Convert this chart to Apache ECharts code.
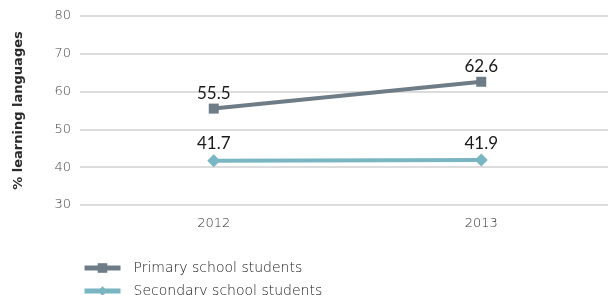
<!DOCTYPE html>
<html><head><meta charset="utf-8">
<script src="https://cdn.jsdelivr.net/npm/echarts@6/dist/echarts.min.js"></script>
<style>html,body{margin:0;padding:0;background:#fff}#c{width:608px;height:295px}</style>
</head><body><div id="c"></div>
<script>
const categories = ['2012', '2013'];
const primary = [55.5, 62.6];
const secondary = [41.7, 41.9];
const seriesNames = ['Primary school students', 'Secondary school students'];
const yTicks = [30, 40, 50, 60, 70, 80];

const chart = echarts.init(document.getElementById('c'));
const labelStyle = {show: true, position: 'top', distance: 2, color: '#1a1a1a', fontSize: 17, fontFamily: 'Lato'};
const tickFont = 'DejaVu Sans';
chart.setOption({
  animation: false,
  grid: {left: 80, width: 535, top: 16, height: 189, outerBoundsMode: 'none', containLabel: false},
  xAxis: {
    type: 'category', data: categories, boundaryGap: true,
    axisLine: {show: false}, axisTick: {show: false},
    axisLabel: {color: '#333', fontSize: 13, fontFamily: tickFont, fontWeight: 200, margin: 12}
  },
  yAxis: {
    type: 'value', min: yTicks[0], max: yTicks[yTicks.length - 1], interval: 10,
    name: '% learning languages', nameLocation: 'middle', nameGap: 55, nameRotate: 90,
    nameTextStyle: {color: '#2a2a2a', fontSize: 13, fontWeight: 'bold', fontFamily: 'DejaVu Sans'},
    axisLine: {show: false}, axisTick: {show: false},
    axisLabel: {color: '#444', fontSize: 13, fontFamily: tickFont, fontWeight: 200, margin: 9},
    splitLine: {lineStyle: {color: '#d0d0d0', width: 1.5}}
  },
  legend: {
    data: seriesNames, orient: 'vertical', left: 82, top: 261, height: 40, padding: 0, itemGap: 9,
    itemWidth: 36, itemHeight: 12,
    lineStyle: {width: 5},
    textStyle: {color: '#1a1a1a', fontSize: 14, fontFamily: tickFont, fontWeight: 200, padding: [0, 0, 0, 8]}
  },
  series: [
    {name: seriesNames[0], type: 'line', data: primary, symbol: 'rect', symbolSize: 10,
     lineStyle: {color: '#6e7c87', width: 4}, itemStyle: {color: '#6e7c87'}, label: labelStyle},
    {name: seriesNames[1], type: 'line', data: secondary, symbol: 'diamond', symbolSize: 13,
     lineStyle: {color: '#79b6c1', width: 4}, itemStyle: {color: '#79b6c1'}, label: labelStyle}
  ]
});
</script></body></html>
